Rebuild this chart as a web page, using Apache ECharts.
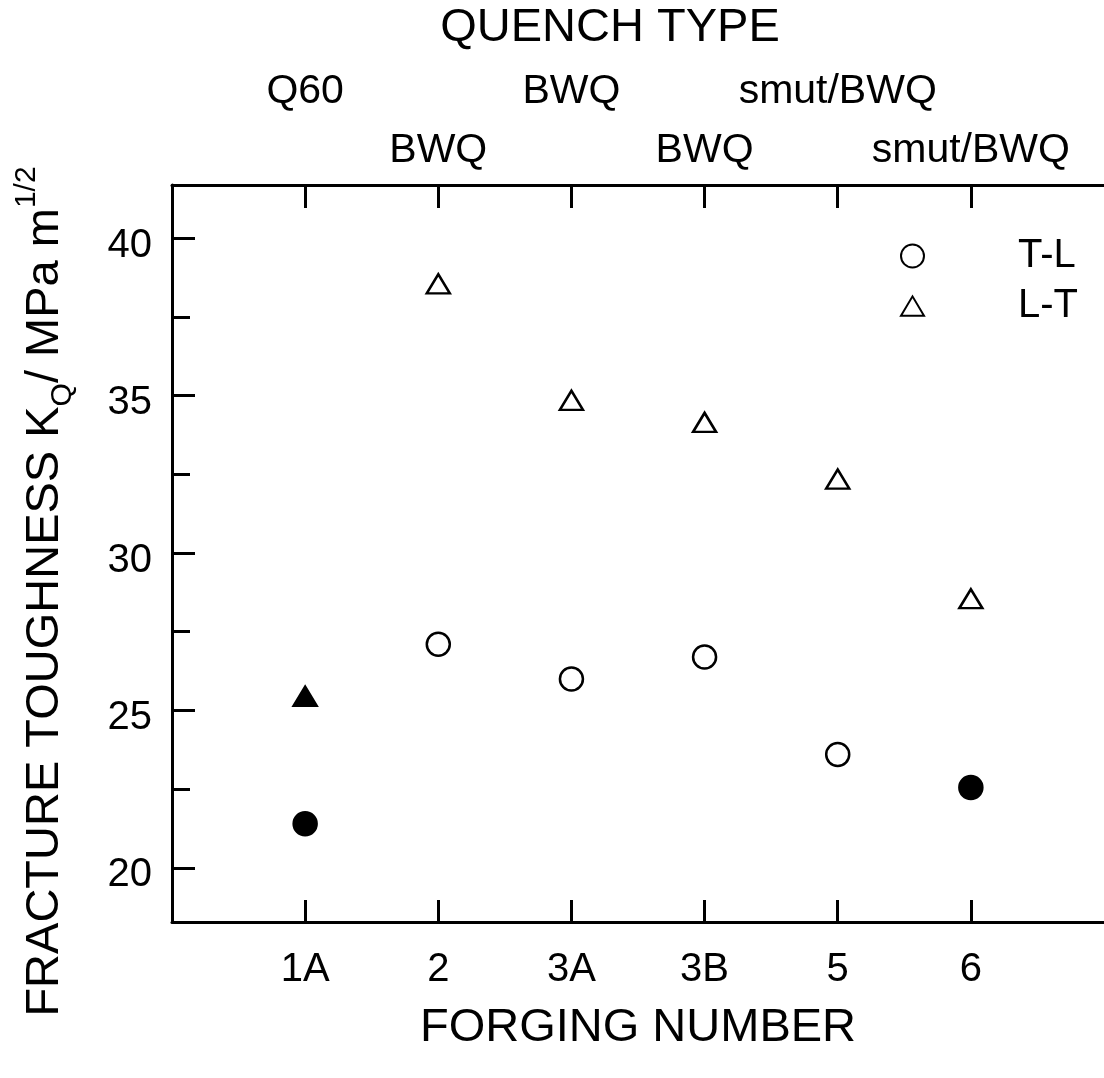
<!DOCTYPE html>
<html>
<head>
<meta charset="utf-8">
<script src="https://cdn.jsdelivr.net/npm/echarts@6/dist/echarts.min.js"></script>
<style>
  html, body { margin: 0; padding: 0; background: #fff; }
  #chart { width: 1104px; height: 1078px; }
</style>
</head>
<body>
<div id="chart"></div>
<script>
// forging number along x, quench type written above the plot
const forgings = ["1A", "2", "3A", "3B", "5", "6"];
const quenchTypes = ["Q60", "BWQ", "BWQ", "BWQ", "smut/BWQ", "smut/BWQ"];
const tlValues = [21.4, 27.1, 26.0, 26.7, 23.6, 22.55];
const ltValues = [25.45, 38.55, 34.85, 34.15, 32.35, 28.55];
const tlFilled = [true, false, false, false, false, true];
const ltFilled = [true, false, false, false, false, false];
const yMajor = [20, 25, 30, 35, 40];
const yMinor = [22.5, 27.5, 32.5, 37.5];

const font = "'Liberation Sans', Arial, Helvetica, sans-serif";
const positions = forgings.map((f, i) => i + 1);

const chart = echarts.init(document.getElementById("chart"), null, { renderer: "canvas" });

const toPoints = (vals, filled) =>
  vals.map((v, i) => ({
    value: [i + 1, v],
    itemStyle: filled[i] ? { color: "#000" } : undefined,
  }));

const lineStyle = { color: "#000", width: 3 };

const xBase = {
  type: "value",
  min: 0,
  max: 7,
  splitLine: { show: false },
};

// legend triangle: the stray move points pad the box to a square so it keeps a 25x21 shape
const legendTriangle = "path://M0,0M25,25M0,23L12.5,2L25,23Z";

chart.setOption({
  animation: false,
  grid: { left: 172, top: 182, width: 935, height: 740 },
  legend: {
    orient: "vertical",
    left: 895,
    top: 231,
    itemWidth: 23,
    itemHeight: 23,
    itemGap: 10,
    selectedMode: false,
    textStyle: {
      fontFamily: font,
      fontSize: 40,
      lineHeight: 40,
      color: "#000",
      padding: [0, 0, 0, 89],
    },
    data: [{ name: "T-L" }, { name: "L-T", icon: legendTriangle }],
  },
  xAxis: [
    {
      ...xBase,
      position: "bottom",
      axisLine: { lineStyle },
      axisTick: { inside: true, length: 22, lineStyle, customValues: positions },
      axisLabel: {
        customValues: positions,
        formatter: (v) => forgings[v - 1],
        fontFamily: font,
        fontSize: 40,
        color: "#000",
        margin: 28,
      },
      name: "FORGING NUMBER",
      nameLocation: "middle",
      nameGap: 83,
      nameTextStyle: { fontFamily: font, fontSize: 47, color: "#000" },
    },
    {
      ...xBase,
      position: "top",
      axisLine: { lineStyle },
      axisTick: { inside: true, length: 23, lineStyle, customValues: positions },
      axisLabel: {
        customValues: [2, 4, 6],
        formatter: (v) => quenchTypes[v - 1],
        fontFamily: font,
        fontSize: 41,
        color: "#000",
        margin: 14,
      },
    },
    {
      ...xBase,
      position: "top",
      axisLine: { show: false },
      axisTick: { show: false },
      axisLabel: {
        customValues: [1, 3, 5],
        formatter: (v) => quenchTypes[v - 1],
        fontFamily: font,
        fontSize: 41,
        color: "#000",
        margin: 73,
      },
      name: "QUENCH TYPE",
      nameLocation: "middle",
      nameGap: 133,
      nameTextStyle: { fontFamily: font, fontSize: 47, color: "#000", padding: [0, 56, 0, 0] },
    },
  ],
  yAxis: [
    {
      type: "value",
      min: 18.28,
      max: 41.69,
      splitLine: { show: false },
      axisLine: { show: true, lineStyle },
      axisTick: { inside: true, length: 23, lineStyle, customValues: yMajor },
      axisLabel: {
        customValues: yMajor,
        fontFamily: font,
        fontSize: 40,
        color: "#000",
        margin: 20,
        verticalAlign: "top",
        lineHeight: 15,
      },
      name: "{a|FRACTURE TOUGHNESS K}{b|Q}{a|/ MPa m}{c|1/2}",
      nameLocation: "middle",
      nameGap: 94,
      nameTextStyle: {
        fontFamily: font,
        color: "#000",
        padding: [0, 76, 0, 0],
        rich: {
          a: { fontFamily: font, fontSize: 47, lineHeight: 66, color: "#000" },
          b: { fontFamily: font, fontSize: 30, lineHeight: 28, verticalAlign: "bottom", color: "#000" },
          c: { fontFamily: font, fontSize: 30, lineHeight: 30, verticalAlign: "top", color: "#000" },
        },
      },
    },
    {
      type: "value",
      min: 18.28,
      max: 41.69,
      position: "left",
      splitLine: { show: false },
      axisLine: { show: false },
      axisTick: { inside: true, length: 18, lineStyle, customValues: yMinor },
      axisLabel: { show: false },
    },
  ],
  series: [
    {
      name: "T-L",
      type: "scatter",
      symbol: "circle",
      symbolSize: 23,
      itemStyle: { color: "#fff", borderColor: "#000", borderWidth: 2.5, opacity: 1 },
      emphasis: { disabled: true },
      data: toPoints(tlValues, tlFilled),
    },
    {
      name: "L-T",
      type: "scatter",
      symbol: "triangle",
      symbolSize: [23, 19],
      itemStyle: { color: "#fff", borderColor: "#000", borderWidth: 2.5, opacity: 1 },
      emphasis: { disabled: true },
      data: toPoints(ltValues, ltFilled),
    },
  ],
});
</script>
</body>
</html>
